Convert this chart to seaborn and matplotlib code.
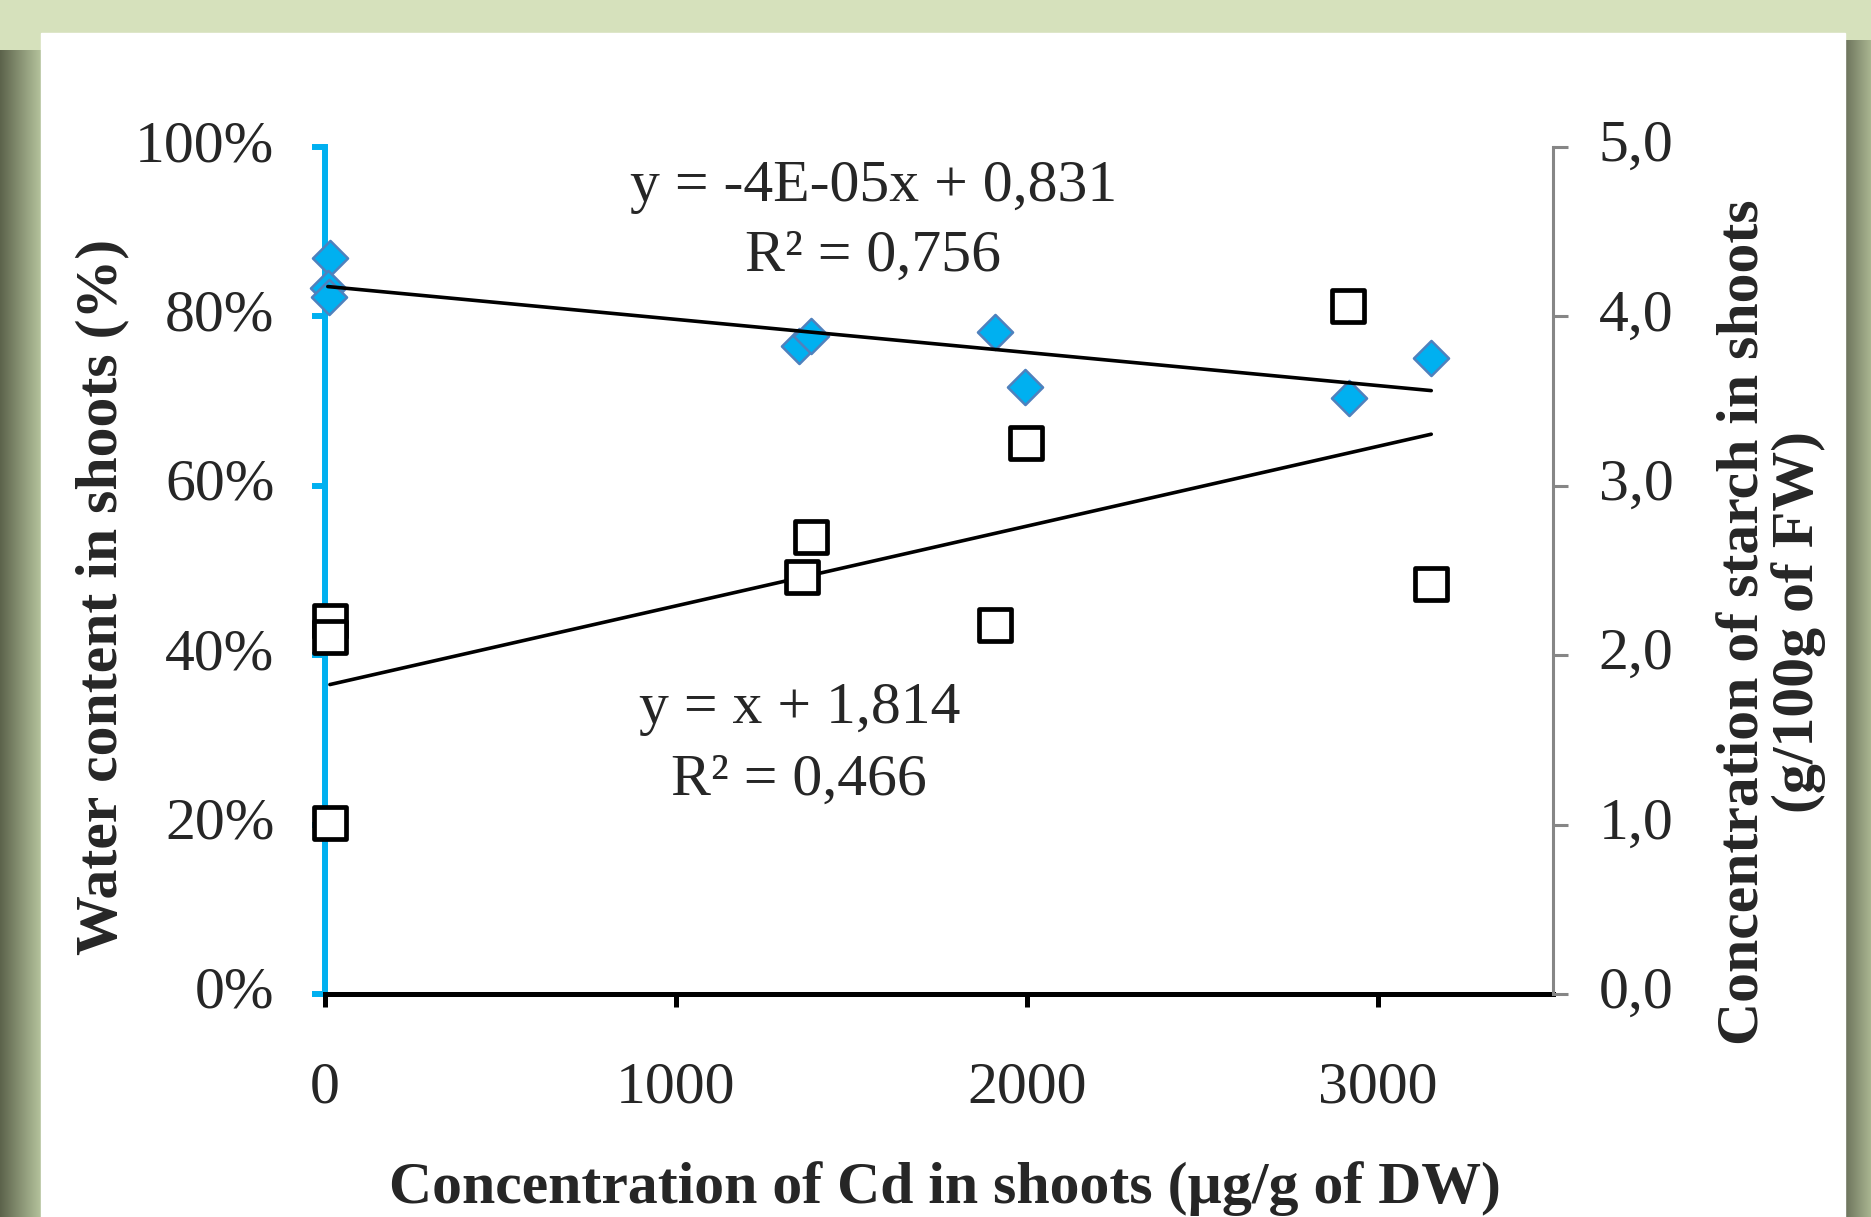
import numpy as np
import matplotlib
matplotlib.use("Agg")
import matplotlib.pyplot as plt
from matplotlib.ticker import PercentFormatter, FuncFormatter
import seaborn as sns

# values
cd_shoots = [14, 8, 10, 1352, 1386, 1910, 1995, 2919, 3153]
water_content = [0.869, 0.834, 0.823, 0.765, 0.777, 0.782, 0.717, 0.704, 0.751]
cd_starch = [14, 14, 14, 1359, 1386, 1910, 1998, 2915, 3153]
starch = [2.20, 2.11, 1.01, 2.46, 2.70, 2.18, 3.25, 4.06, 2.42]

x_ticks = [0, 1000, 2000, 3000]
left_ticks = [0, 0.2, 0.4, 0.6, 0.8, 1.0]
right_ticks = [0, 1, 2, 3, 4, 5]

eq_water = ["y = -4E-05x + 0,831", "R² = 0,756"]
eq_starch = ["y = x + 1,814", "R² = 0,466"]

sns.set_style("white")
plt.rcParams['font.family'] = ['Liberation Serif', 'DejaVu Serif']

W, H = 1871, 1217
fig = plt.figure(figsize=(W / 100, H / 100), dpi=100)
fig.patch.set_facecolor('#d6e1bc')

# background frame with shadows
bg = fig.add_axes([0, 0, 1, 1], zorder=-10)
bg.set_xlim(0, W)
bg.set_ylim(H, 0)
bg.axis('off')


def hgrad(c1, c2, n=64):
    a = np.array(matplotlib.colors.to_rgb(c1))
    b = np.array(matplotlib.colors.to_rgb(c2))
    t = np.linspace(0, 1, n)[:, None]
    return (a + (b - a) * t)[None, :, :]


bg.imshow(hgrad('#5c634b', '#b4c29c'), extent=[0, 41, H, 50], aspect='auto')
bg.imshow(hgrad('#6c735c', '#a9b590'), extent=[1845, W, H, 40], aspect='auto')
bg.add_patch(plt.Rectangle((41, 33), 1804, H - 33, color='white'))
bg.imshow(hgrad('#ebebeb', '#ffffff'), extent=[41, 62, H, 33], aspect='auto')

# main axes
L, R, T, B = 325, 1553, 147, 994
ax = fig.add_axes([L / W, 1 - B / H, (R - L) / W, (B - T) / H])
ax.set_facecolor('none')
ax2 = ax.twinx()

sns.regplot(x=cd_shoots, y=water_content, ax=ax, scatter=False, ci=None,
            color='black', line_kws={'lw': 2.6, 'zorder': 4})
sns.scatterplot(x=cd_shoots, y=water_content, ax=ax, marker='D', s=320,
                color='#00b0f0', edgecolor='#4f81bd', linewidth=1.8,
                zorder=3, clip_on=False)

sns.scatterplot(x=cd_starch, y=starch, ax=ax2, marker='s', s=520,
                color='white', edgecolor='black', linewidth=3.4,
                zorder=3, clip_on=False)
sns.regplot(x=cd_starch, y=starch, ax=ax2, scatter=False, ci=None,
            color='black', line_kws={'lw': 2.6})

ax.set_xlim(0, 3500)
ax.set_ylim(0, 1)
ax2.set_ylim(0, 5)
ax.set_xticks(x_ticks)
ax.set_yticks(left_ticks)
ax2.set_yticks(right_ticks)
ax.yaxis.set_major_formatter(PercentFormatter(1.0, decimals=0))
ax2.yaxis.set_major_formatter(FuncFormatter(lambda v, p: f"{v:.1f}".replace('.', ',')))

for s in ['top', 'right']:
    ax.spines[s].set_visible(False)
for s in ['top', 'left', 'bottom']:
    ax2.spines[s].set_visible(False)
ax.spines['left'].set_color('#00b0f0')
ax.spines['left'].set_linewidth(4.3)
ax.spines['bottom'].set_color('black')
ax.spines['bottom'].set_linewidth(3.6)
ax2.spines['right'].set_color('#868686')
ax2.spines['right'].set_linewidth(2.2)

ax.tick_params(axis='x', direction='out', bottom=True, length=9.5, width=3.6,
               color='black', labelsize=43, pad=39)
ax.tick_params(axis='y', direction='out', left=True, length=9.5, width=4.3,
               color='#00b0f0', labelsize=43, pad=27)
ax2.tick_params(axis='y', direction='out', right=True, length=11, width=2.2,
                color='#868686', labelsize=43, pad=22)
for lab in ax.get_yticklabels() + ax2.get_yticklabels():
    lab.set_va('center')

ax.set_xlabel("Concentration of Cd in shoots (µg/g of DW)", fontsize=43,
              fontweight='bold', va='center')
ax.xaxis.set_label_coords(0.505, -0.230)
ax.set_ylabel("Water content in shoots (%)", fontsize=43, fontweight='bold',
              va='center')
ax.yaxis.set_label_coords(-0.181, 0.469)
ax2.set_ylabel("Concentration of starch in shoots\n(g/100g of FW)", fontsize=43,
               fontweight='bold', va='center', linespacing=1.0)
ax2.yaxis.set_label_coords(1.178, 0.439)

ax.text(1563, 0.953, eq_water[0], fontsize=43, ha='center', va='center')
ax.text(1563, 0.870, eq_water[1], fontsize=43, ha='center', va='center')
ax.text(1352, 0.336, eq_starch[0], fontsize=43, ha='center', va='center')
ax.text(1352, 0.252, eq_starch[1], fontsize=43, ha='center', va='center')

fig.savefig("out.png", dpi=100, facecolor=fig.get_facecolor())
